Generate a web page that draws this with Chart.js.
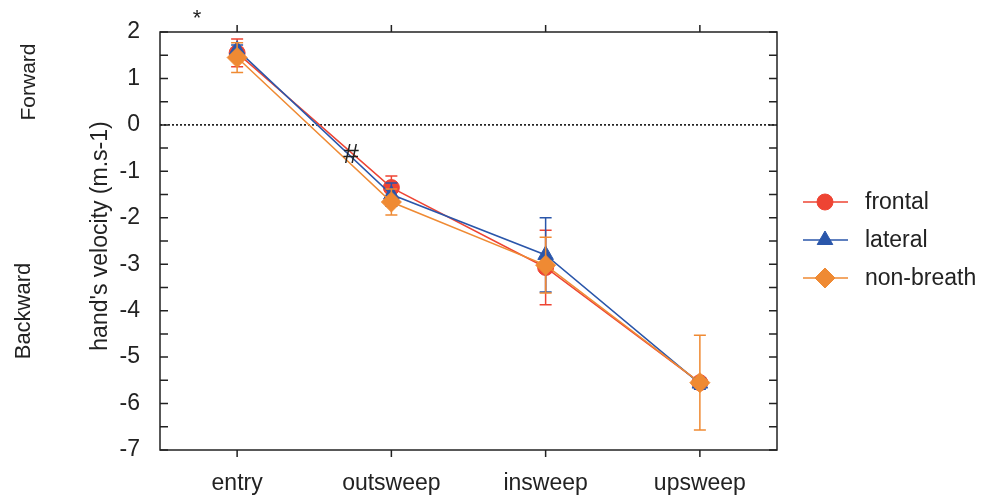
<!DOCTYPE html>
<html>
<head>
<meta charset="utf-8">
<script src="https://cdn.jsdelivr.net/npm/chart.js@4"></script>
<style>
  html, body { margin: 0; padding: 0; background: #fff; }
  #wrapper { width: 981px; height: 498px; }
</style>
</head>
<body>
<div id="wrapper"><canvas id="velChart"></canvas></div>
<script>
var phases = ['entry', 'outsweep', 'insweep', 'upsweep'];
var frontal = [1.55, -1.35, -3.07, -5.55];
var frontalErr = [0.3, 0.25, 0.8, 0.05];
var lateral = [1.62, -1.5, -2.8, -5.57];
var lateralErr = [0.1, 0.25, 0.8, 0.12];
var nonBreath = [1.45, -1.66, -3.02, -5.55];
var nonBreathErr = [0.32, 0.28, 0.6, 1.02];
var yTicks = [2, 1, 0, -1, -2, -3, -4, -5, -6, -7];

var FONT = '"Liberation Sans", Arial, sans-serif';
var INK = '#222';

// error bars drawn under each dataset's own markers
var errorBars = {
  id: 'errorBars',
  beforeDatasetDraw(chart, args) {
    var ds = chart.data.datasets[args.index];
    var y = chart.scales.y;
    var ctx = chart.ctx;
    ctx.save();
    ctx.strokeStyle = ds.borderColor;
    ctx.lineWidth = 1.5;
    args.meta.data.forEach(function (pt, i) {
      var v = ds.data[i], e = ds.err[i];
      var top = y.getPixelForValue(v + e), bot = y.getPixelForValue(v - e);
      ctx.beginPath();
      ctx.moveTo(pt.x, top); ctx.lineTo(pt.x, bot);
      ctx.moveTo(pt.x - 6, top); ctx.lineTo(pt.x + 6, top);
      ctx.moveTo(pt.x - 6, bot); ctx.lineTo(pt.x + 6, bot);
      ctx.stroke();
    });
    ctx.restore();
  }
};

var frame = {
  id: 'frame',
  beforeDatasetsDraw(chart) {
    var a = chart.chartArea, ctx = chart.ctx, y = chart.scales.y;
    var zero = y.getPixelForValue(0);
    ctx.save();
    ctx.strokeStyle = '#000';
    ctx.lineWidth = 1.5;
    ctx.setLineDash([2, 2]);
    ctx.beginPath();
    ctx.moveTo(a.left, zero); ctx.lineTo(a.right, zero);
    ctx.stroke();
    ctx.restore();
  },
  afterDraw(chart) {
    var a = chart.chartArea, ctx = chart.ctx;
    var x = chart.scales.x, y = chart.scales.y;
    ctx.save();
    ctx.strokeStyle = INK;
    ctx.lineWidth = 1.5;
    ctx.strokeRect(a.left, a.top, a.right - a.left, a.bottom - a.top);
    ctx.beginPath();
    phases.forEach(function (p, i) {
      var px = x.getPixelForValue(i);
      ctx.moveTo(px, a.top - 7); ctx.lineTo(px, a.top);
      ctx.moveTo(px, a.bottom); ctx.lineTo(px, a.bottom + 7);
    });
    for (var v = y.min; v <= y.max; v += 0.5) {
      var py = y.getPixelForValue(v);
      ctx.moveTo(a.left, py); ctx.lineTo(a.left + 8, py);
      ctx.moveTo(a.right, py); ctx.lineTo(a.right - 8, py);
    }
    ctx.stroke();

    // texts
    ctx.fillStyle = INK;
    ctx.textAlign = 'center';
    ctx.textBaseline = 'middle';
    [['hand\'s velocity (m.s-1)', 101, 236, 23], ['Forward', 29, 82, 21], ['Backward', 24, 311, 22]].forEach(function (t) {
      ctx.save();
      ctx.font = t[3] + 'px ' + FONT;
      ctx.translate(t[1], t[2]);
      ctx.rotate(-Math.PI / 2);
      ctx.fillText(t[0], 0, 0);
      ctx.restore();
    });
    ctx.font = '22px ' + FONT;
    ctx.fillText('*', 197, 19);
    ctx.font = '28px ' + FONT;
    ctx.fillText('#', 351, 155);

    // legend: line + marker + label
    ctx.font = '23px ' + FONT;
    ctx.textAlign = 'left';
    chart.data.datasets.forEach(function (ds, i) {
      var ly = 202 + i * 38;
      ctx.strokeStyle = ds.borderColor;
      ctx.fillStyle = ds.backgroundColor;
      ctx.lineWidth = 1.5;
      ctx.beginPath();
      ctx.moveTo(803, ly); ctx.lineTo(848, ly);
      ctx.stroke();
      ctx.lineWidth = 1;
      Chart.helpers.drawPoint(ctx, {
        pointStyle: ds.pointStyle, radius: ds.pointRadius, borderWidth: 1
      }, 825, ly);
      ctx.fillStyle = INK;
      ctx.fillText(ds.label, 865, ly + 1);
    });
    ctx.restore();
  }
};

var ctx = document.getElementById('velChart');
new Chart(ctx, {
  type: 'line',
  data: {
    labels: phases,
    datasets: [
      { label: 'frontal', data: frontal, err: frontalErr, borderColor: '#ee4433', backgroundColor: '#ee4433',
        pointStyle: 'circle', pointRadius: 8, order: 3 },
      { label: 'lateral', data: lateral, err: lateralErr, borderColor: '#2a56aa', backgroundColor: '#2a56aa',
        pointStyle: 'triangle', pointRadius: 9, order: 2 },
      { label: 'non-breath', data: nonBreath, err: nonBreathErr, borderColor: '#ef8a33', backgroundColor: '#ef8a33',
        pointStyle: 'rectRot', pointRadius: 10, order: 1 }
    ]
  },
  options: {
    responsive: true,
    maintainAspectRatio: false,
    animation: false,
    layout: { padding: { top: 32, right: 204, left: 0, bottom: 0 } },
    elements: {
      line: { borderWidth: 1.5, tension: 0 },
      point: { borderWidth: 1, hoverRadius: 8 }
    },
    plugins: { legend: { display: false }, tooltip: { enabled: false } },
    scales: {
      x: {
        type: 'category',
        offset: true,
        grid: { display: false },
        border: { display: false },
        ticks: { color: INK, font: { family: FONT, size: 23 }, padding: 12 },
        afterFit: function (s) { s.height = 48; }
      },
      y: {
        min: -7, max: 2,
        grid: { display: false },
        border: { display: false },
        afterBuildTicks: function (s) { s.ticks = yTicks.map(function (v) { return { value: v }; }); },
        ticks: { color: INK, font: { family: FONT, size: 23 }, padding: 12 },
        afterFit: function (s) { s.width = 160; }
      }
    }
  },
  plugins: [errorBars, frame]
});
</script>
</body>
</html>
